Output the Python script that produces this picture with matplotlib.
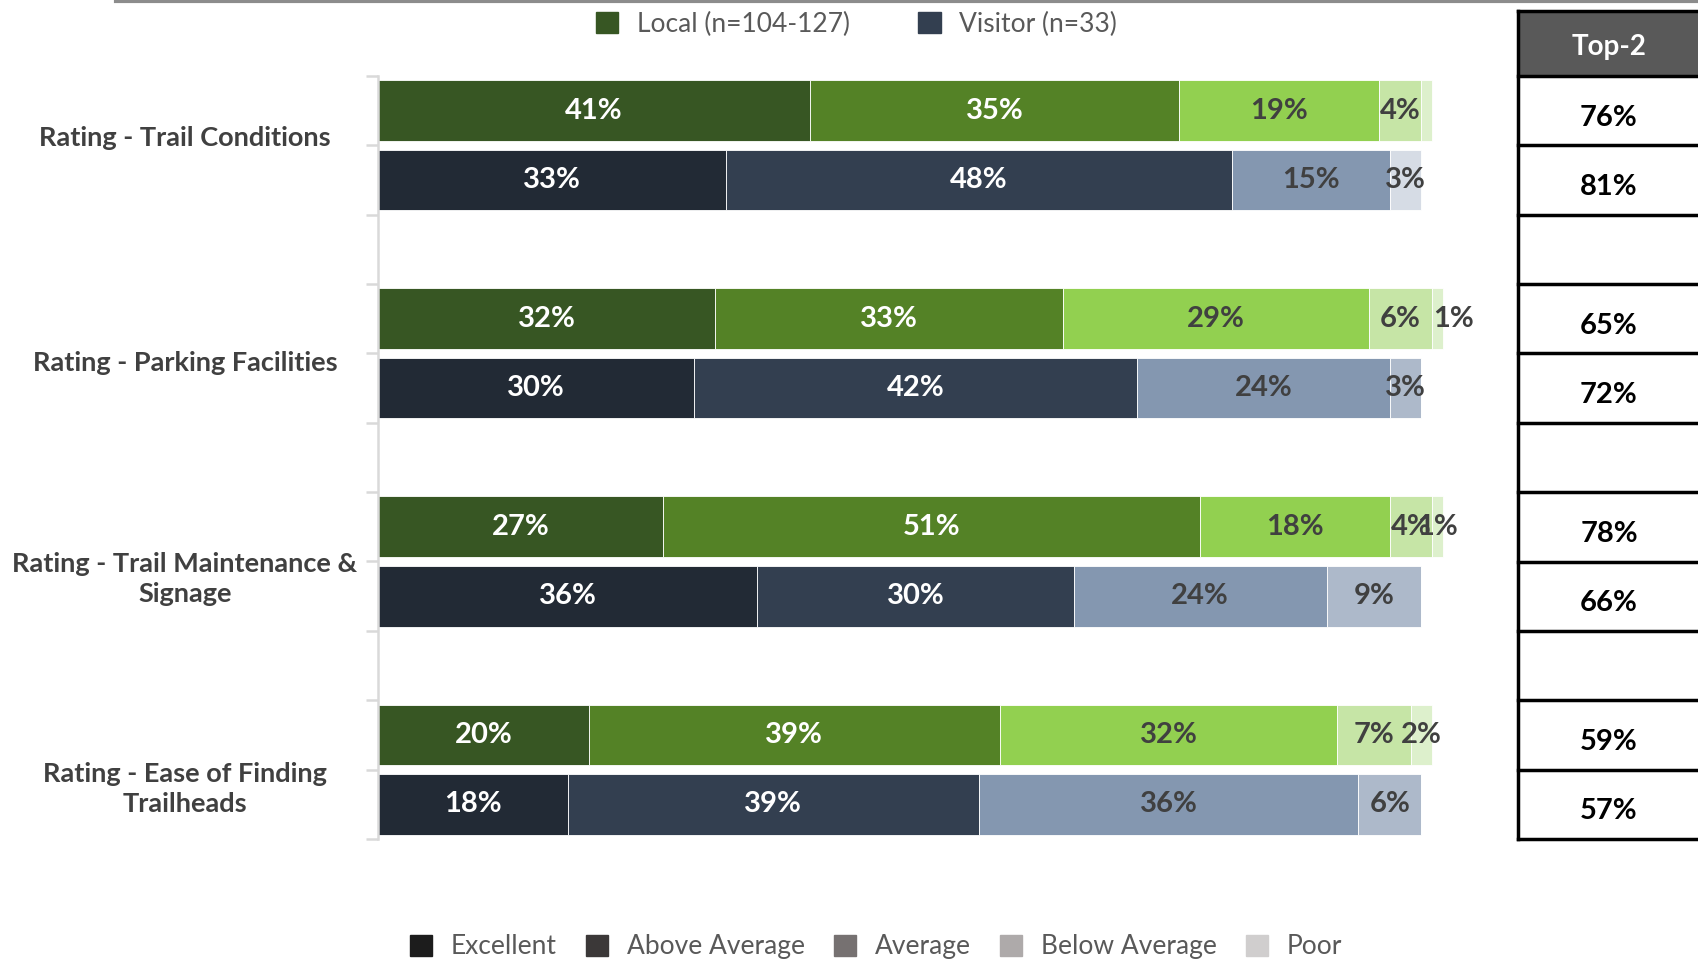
import numpy as np
import matplotlib.pyplot as plt
import matplotlib.transforms as mtransforms
from matplotlib.patches import Patch
from matplotlib.lines import Line2D

plt.rcParams['font.family'] = ['Lato', 'DejaVu Sans']

categories = ["Rating - Trail Conditions", "Rating - Parking Facilities",
              "Rating - Trail Maintenance &\nSignage", "Rating - Ease of Finding\nTrailheads"]
levels = ["Excellent", "Above Average", "Average", "Below Average", "Poor"]
groups = ["Local (n=104-127)", "Visitor (n=33)"]

# percentages, one list per rating level (order = categories)
local_excellent = [41, 32, 27, 20]
local_above = [35, 33, 51, 39]
local_average = [19, 29, 18, 32]
local_below = [4, 6, 4, 7]
local_poor = [1, 1, 1, 2]

visitor_excellent = [33, 30, 36, 18]
visitor_above = [48, 42, 30, 39]
visitor_average = [15, 24, 24, 36]
visitor_below = [0, 3, 9, 6]
visitor_poor = [3, 0, 0, 0]

local_colors = ["#375623", "#548226", "#92D050", "#C6E5A6", "#DDF0CC"]
visitor_colors = ["#222A35", "#333F50", "#8497B0", "#ADB9CA", "#D6DCE5"]
legend_grays = ["#1C1C1C", "#3B3838", "#767171", "#AEAAAA", "#D0CECE"]

# label tweaks from the original: None = label not shown, number = shift in px
local_poor_label_dx = [None, 16, 0, 0]

XMAX = 105
fig = plt.figure(figsize=(16.99, 9.61), dpi=100)
ax_left = 378
ax_w = 1054 * XMAX / 100
ax = fig.add_axes([ax_left / 1699, 0.127, ax_w / 1699, 0.794])

n = len(categories)
local_y = np.arange(n) * 3
visitor_y = local_y + 1

local_rows = np.array([local_excellent, local_above, local_average, local_below, local_poor])
visitor_rows = np.array([visitor_excellent, visitor_above, visitor_average, visitor_below, visitor_poor])


def draw_rows(ypos, rows, colors, poor_dx=None):
    left = np.zeros(n)
    for j in range(len(levels)):
        vals = rows[j]
        ax.barh(ypos, vals, left=left, height=0.875, color=colors[j],
                edgecolor="white", linewidth=0.6)
        tc = "white" if j < 2 else "#404040"
        for i in range(n):
            if vals[i] == 0:
                continue
            dx = 0
            if j == 4 and poor_dx is not None:
                if poor_dx[i] is None:
                    continue
                dx = poor_dx[i]
            ax.annotate(f"{vals[i]}%", (left[i] + vals[i] / 2, ypos[i]),
                        xytext=(dx, 0), textcoords="offset pixels",
                        ha="center", va="center", fontsize=21,
                        fontweight="bold", color=tc)
        left = left + vals


draw_rows(local_y, local_rows, local_colors, local_poor_label_dx)
draw_rows(visitor_y, visitor_rows, visitor_colors)

ax.set_xlim(0, XMAX)
ax.set_ylim(10.5, -0.5)
for s in ["top", "right", "bottom"]:
    ax.spines[s].set_visible(False)
ax.spines["left"].set_color("#D9D9D9")
ax.spines["left"].set_linewidth(1.8)
ax.set_xticks([])
ax.set_yticks(np.arange(12) - 0.5)
ax.set_yticklabels([])
ax.tick_params(axis="y", length=9, width=1.8, color="#D9D9D9")

trans = mtransforms.blended_transform_factory(ax.transAxes, ax.transData)
label_dy = [-0.11, 0.14, 0.25, 0.28]
for i, cat in enumerate(categories):
    ax.text((185 - ax_left) / ax_w, local_y[i] + 0.5 + label_dy[i], cat, transform=trans,
            ha="center", va="center", fontsize=19.5, fontweight="bold",
            color="#404040", linespacing=1.3)

# Top-2 table on the right
slot_px = 69.35
header_top = -0.5 - 65 / slot_px
tax = fig.add_axes([1518 / 1699, 0.127, 182 / 1699, (839 - 11) / 961])
tax.set_xlim(0, 1)
tax.set_ylim(10.5, header_top)
tax.axis("off")
tax.axhspan(header_top, -0.5, color="#595959")
for yl in [header_top] + list(np.arange(12) - 0.5):
    tax.axhline(yl, color="black", lw=2.5, clip_on=False)
tax.plot([0, 0], [header_top, 10.5], color="black", lw=2.5, clip_on=False)
tax.text(0.5, (header_top - 0.5) / 2 + 0.05, "Top-2", ha="center", va="center",
         fontsize=20, fontweight="bold", color="white")

top2_local = local_rows[0] + local_rows[1]
top2_visitor = visitor_rows[0] + visitor_rows[1]
for i in range(n):
    tax.text(0.5, local_y[i] + 0.1, f"{top2_local[i]}%", ha="center", va="center",
             fontsize=21, fontweight="bold", color="black")
    tax.text(0.5, visitor_y[i] + 0.1, f"{top2_visitor[i]}%", ha="center", va="center",
             fontsize=21, fontweight="bold", color="black")

# gray rule along the top
fig.add_artist(Line2D([0.068, 1.0], [0.9985, 0.9985], color="#8C8C8C", lw=3))

top_handles = [Patch(color=local_colors[0]), Patch(color=visitor_colors[1])]
fig.legend(top_handles, groups, loc="center", bbox_to_anchor=(0.504, 0.975),
           ncol=2, frameon=False, fontsize=19, handlelength=0.85, handleheight=0.85,
           handletextpad=0.7, columnspacing=2.6, labelcolor="#595959")

bottom_handles = [Patch(color=c) for c in legend_grays]
fig.legend(bottom_handles, levels, loc="center", bbox_to_anchor=(0.5156, 0.0146),
           ncol=5, frameon=False, fontsize=19, handlelength=0.85, handleheight=0.85,
           handletextpad=0.7, columnspacing=1.1, labelcolor="#595959")

fig.savefig("out.png", dpi=100)
